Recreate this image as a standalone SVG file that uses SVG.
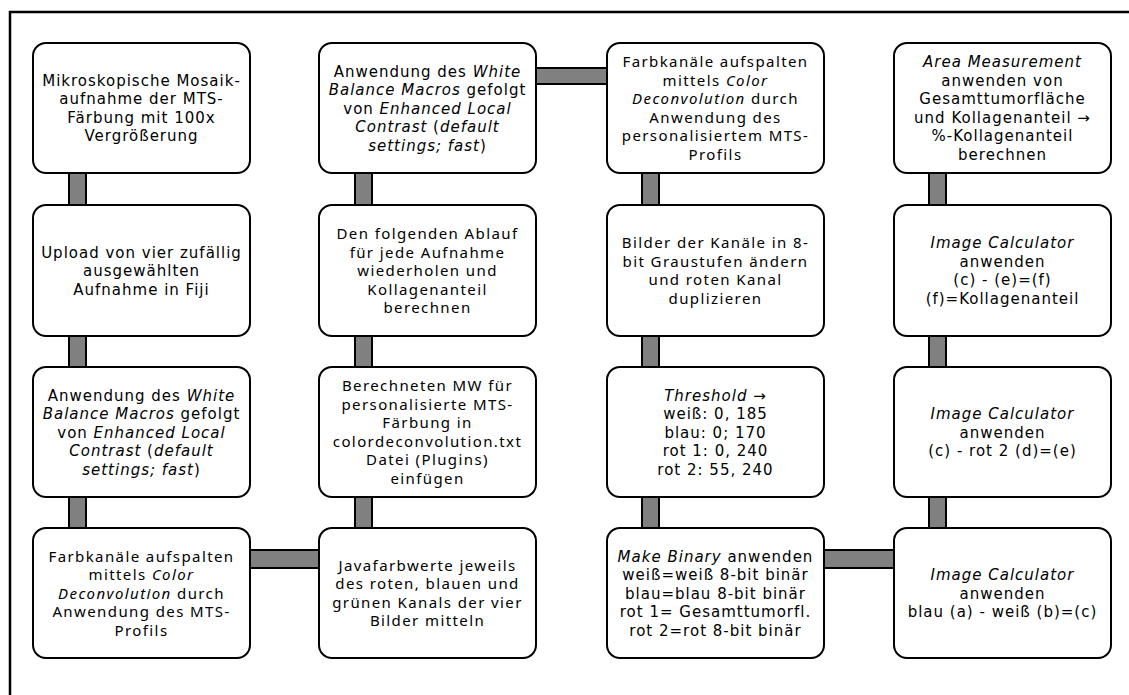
<svg xmlns="http://www.w3.org/2000/svg" width="1129" height="695" viewBox="0 0 1129 695">
<style>
.box{fill:#fff;stroke:#000;stroke-width:2}
.con{fill:#808080;stroke:#000;stroke-width:2}
.v{font-family:"DejaVu Sans","Verdana",sans-serif;font-size:15px;letter-spacing:1px;fill:#000;text-anchor:middle}
.n{font-family:"Noto Sans","Open Sans",sans-serif;font-size:15px;letter-spacing:1.4px;fill:#000;text-anchor:middle}
.i{font-style:italic}
</style>
<rect width="1129" height="695" fill="#fff"/>
<path d="M10,695 V12 H1129" fill="none" stroke="#000" stroke-width="2.5"/>
<g id="connectors">
<rect class="con" x="69" y="170" width="17" height="38"/>
<rect class="con" x="69" y="332" width="17" height="38"/>
<rect class="con" x="69" y="494" width="17" height="38"/>
<rect class="con" x="355" y="170" width="17" height="38"/>
<rect class="con" x="355" y="332" width="17" height="38"/>
<rect class="con" x="355" y="494" width="17" height="38"/>
<rect class="con" x="642" y="170" width="17" height="38"/>
<rect class="con" x="642" y="332" width="17" height="38"/>
<rect class="con" x="642" y="494" width="17" height="38"/>
<rect class="con" x="929" y="170" width="17" height="38"/>
<rect class="con" x="929" y="332" width="17" height="38"/>
<rect class="con" x="929" y="494" width="17" height="38"/>
<rect class="con" x="533" y="68" width="78" height="16"/>
<rect class="con" x="246" y="550" width="77" height="18"/>
<rect class="con" x="819" y="550" width="79" height="18"/>
</g>
<g id="n1">
<rect class="box" x="33" y="43" width="217" height="130" rx="13"/>
<text class="v" x="141.5" y="85.75">Mikroskopische Mosaik-<tspan x="141.5" dy="18.5">aufnahme der MTS-</tspan><tspan x="141.5" dy="18.5">Färbung mit 100x</tspan><tspan x="141.5" dy="18.5">Vergrößerung</tspan></text>
</g>
<g id="n2">
<rect class="box" x="33" y="205" width="217" height="131" rx="13"/>
<text class="v" x="141.5" y="257.5">Upload von vier zufällig<tspan x="141.5" dy="18.5">ausgewählten</tspan><tspan x="141.5" dy="18.5">Aufnahme in Fiji</tspan></text>
</g>
<g id="n3">
<rect class="box" x="33" y="367" width="217" height="130" rx="13"/>
<text class="v" x="141.5" y="400.5">Anwendung des <tspan class="i">White</tspan><tspan x="141.5" dy="18.5"><tspan class="i">Balance Macros</tspan> gefolgt</tspan><tspan x="141.5" dy="18.5">von <tspan class="i">Enhanced Local</tspan></tspan><tspan x="141.5" dy="18.5"><tspan class="i">Contrast</tspan> (<tspan class="i">default</tspan></tspan><tspan x="141.5" dy="18.5"><tspan class="i">settings; fast</tspan>)</tspan></text>
</g>
<g id="n4">
<rect class="box" x="33" y="528" width="217" height="130" rx="13"/>
<text class="n" x="141.5" y="561.5">Farbkanäle aufspalten<tspan x="141.5" dy="18.5">mittels <tspan class="i">Color</tspan></tspan><tspan x="141.5" dy="18.5"><tspan class="i">Deconvolution</tspan> durch</tspan><tspan x="141.5" dy="18.5">Anwendung des MTS-</tspan><tspan x="141.5" dy="18.5">Profils</tspan></text>
</g>
<g id="n5">
<rect class="box" x="319" y="528" width="217" height="130" rx="13"/>
<text class="n" x="427.5" y="570.75">Javafarbwerte jeweils<tspan x="427.5" dy="18.5">des roten, blauen und</tspan><tspan x="427.5" dy="18.5">grünen Kanals der vier</tspan><tspan x="427.5" dy="18.5">Bilder mitteln</tspan></text>
</g>
<g id="n6">
<rect class="box" x="319" y="367" width="217" height="130" rx="13"/>
<text class="n" x="427.5" y="391.25">Berechneten MW für<tspan x="427.5" dy="18.5">personalisierte MTS-</tspan><tspan x="427.5" dy="18.5">Färbung in</tspan><tspan x="427.5" dy="18.5">colordeconvolution.txt</tspan><tspan x="427.5" dy="18.5">Datei (Plugins)</tspan><tspan x="427.5" dy="18.5">einfügen</tspan></text>
</g>
<g id="n7">
<rect class="box" x="319" y="205" width="217" height="131" rx="13"/>
<text class="n" x="427.5" y="239">Den folgenden Ablauf<tspan x="427.5" dy="18.5">für jede Aufnahme</tspan><tspan x="427.5" dy="18.5">wiederholen und</tspan><tspan x="427.5" dy="18.5">Kollagenanteil</tspan><tspan x="427.5" dy="18.5">berechnen</tspan></text>
</g>
<g id="n8">
<rect class="box" x="319" y="43" width="217" height="130" rx="13"/>
<text class="v" x="427.5" y="76.5">Anwendung des <tspan class="i">White</tspan><tspan x="427.5" dy="18.5"><tspan class="i">Balance Macros</tspan> gefolgt</tspan><tspan x="427.5" dy="18.5">von <tspan class="i">Enhanced Local</tspan></tspan><tspan x="427.5" dy="18.5"><tspan class="i">Contrast</tspan> (<tspan class="i">default</tspan></tspan><tspan x="427.5" dy="18.5"><tspan class="i">settings; fast</tspan>)</tspan></text>
</g>
<g id="n9">
<rect class="box" x="607" y="43" width="217" height="130" rx="13"/>
<text class="n" x="715.5" y="67.25">Farbkanäle aufspalten<tspan x="715.5" dy="18.5">mittels <tspan class="i">Color</tspan></tspan><tspan x="715.5" dy="18.5"><tspan class="i">Deconvolution</tspan> durch</tspan><tspan x="715.5" dy="18.5">Anwendung des</tspan><tspan x="715.5" dy="18.5">personalisiertem MTS-</tspan><tspan x="715.5" dy="18.5">Profils</tspan></text>
</g>
<g id="n10">
<rect class="box" x="607" y="205" width="217" height="131" rx="13"/>
<text class="n" x="715.5" y="248.25">Bilder der Kanäle in 8-<tspan x="715.5" dy="18.5">bit Graustufen ändern</tspan><tspan x="715.5" dy="18.5">und roten Kanal</tspan><tspan x="715.5" dy="18.5">duplizieren</tspan></text>
</g>
<g id="n11">
<rect class="box" x="607" y="367" width="217" height="130" rx="13"/>
<text class="v" x="715.5" y="400.5"><tspan class="i">Threshold</tspan> →<tspan x="715.5" dy="18.5">weiß: 0, 185</tspan><tspan x="715.5" dy="18.5">blau: 0; 170</tspan><tspan x="715.5" dy="18.5">rot 1: 0, 240</tspan><tspan x="715.5" dy="18.5">rot 2: 55, 240</tspan></text>
</g>
<g id="n12">
<rect class="box" x="607" y="528" width="217" height="130" rx="13"/>
<text class="v" x="715.5" y="561.5"><tspan class="i">Make Binary</tspan> anwenden<tspan x="715.5" dy="18.5">weiß=weiß 8-bit binär</tspan><tspan x="715.5" dy="18.5">blau=blau 8-bit binär</tspan><tspan x="715.5" dy="18.5">rot 1= Gesamttumorfl.</tspan><tspan x="715.5" dy="18.5">rot 2=rot 8-bit binär</tspan></text>
</g>
<g id="n13">
<rect class="box" x="894" y="528" width="217" height="130" rx="13"/>
<text class="v" x="1002.5" y="580"><tspan class="i">Image Calculator</tspan><tspan x="1002.5" dy="18.5">anwenden</tspan><tspan x="1002.5" dy="18.5">blau (a) - weiß (b)=(c)</tspan></text>
</g>
<g id="n14">
<rect class="box" x="894" y="367" width="217" height="130" rx="13"/>
<text class="v" x="1002.5" y="419"><tspan class="i">Image Calculator</tspan><tspan x="1002.5" dy="18.5">anwenden</tspan><tspan x="1002.5" dy="18.5">(c) - rot 2 (d)=(e)</tspan></text>
</g>
<g id="n15">
<rect class="box" x="894" y="205" width="217" height="131" rx="13"/>
<text class="v" x="1002.5" y="248.25"><tspan class="i">Image Calculator</tspan><tspan x="1002.5" dy="18.5">anwenden</tspan><tspan x="1002.5" dy="18.5">(c) - (e)=(f)</tspan><tspan x="1002.5" dy="18.5">(f)=Kollagenanteil</tspan></text>
</g>
<g id="n16">
<rect class="box" x="894" y="43" width="217" height="130" rx="13"/>
<text class="v" x="1002.5" y="67.25"><tspan class="i">Area Measurement</tspan><tspan x="1002.5" dy="18.5">anwenden von</tspan><tspan x="1002.5" dy="18.5">Gesamttumorfläche</tspan><tspan x="1002.5" dy="18.5">und Kollagenanteil →</tspan><tspan x="1002.5" dy="18.5">%-Kollagenanteil</tspan><tspan x="1002.5" dy="18.5">berechnen</tspan></text>
</g>
</svg>
